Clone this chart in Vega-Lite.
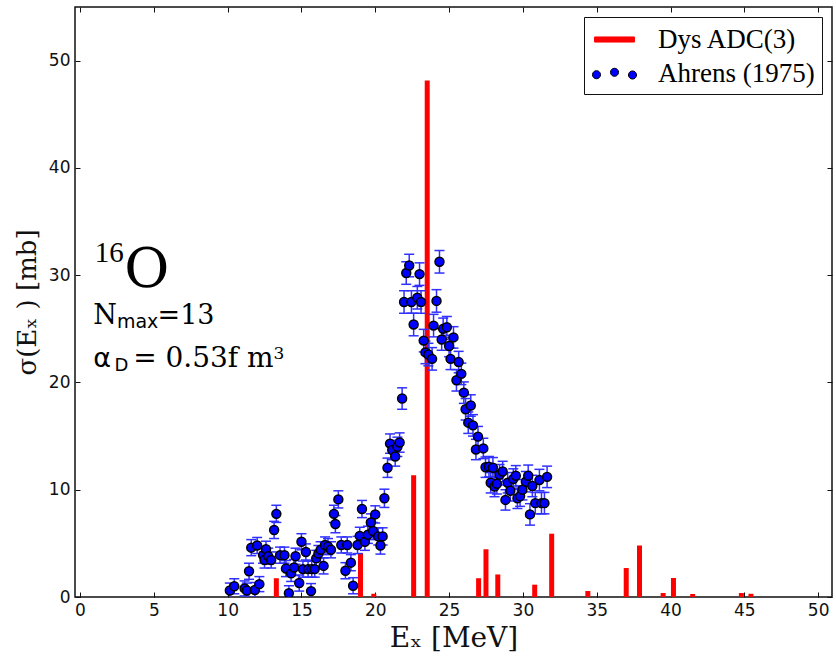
{
  "$schema": "https://vega.github.io/schema/vega-lite/v6.json",
  "width": 757,
  "height": 590,
  "autosize": {"type": "none"},
  "padding": {"left": 75, "top": 7, "right": 4, "bottom": 59},
  "background": "white",
  "data": {"values": [{}]},
  "datasets": {
    "dys": [
      {"e": 13.3, "s": 1.75}, {"e": 19.0, "s": 4.1}, {"e": 19.9, "s": 0.3},
      {"e": 22.6, "s": 11.35}, {"e": 23.52, "s": 48.15}, {"e": 27.0, "s": 1.75},
      {"e": 27.5, "s": 4.45}, {"e": 28.3, "s": 2.1}, {"e": 30.8, "s": 1.15},
      {"e": 31.95, "s": 5.9}, {"e": 34.4, "s": 0.56}, {"e": 37.0, "s": 2.7},
      {"e": 37.9, "s": 4.8}, {"e": 39.5, "s": 0.37}, {"e": 40.2, "s": 1.77},
      {"e": 41.5, "s": 0.28}, {"e": 44.8, "s": 0.37}, {"e": 45.45, "s": 0.3}
    ],
    "ahrens": [
      {"e": 10.15, "s": 0.6, "err": 0.7}, {"e": 10.45, "s": 1.0, "err": 0.7},
      {"e": 11.15, "s": 0.8, "err": 0.7}, {"e": 11.3, "s": 0.6, "err": 0.7},
      {"e": 11.45, "s": 2.4, "err": 0.75}, {"e": 11.6, "s": 4.6, "err": 0.75},
      {"e": 11.85, "s": 0.65, "err": 0.7}, {"e": 12.0, "s": 4.8, "err": 0.75},
      {"e": 12.15, "s": 1.2, "err": 0.7}, {"e": 12.4, "s": 3.9, "err": 0.75},
      {"e": 12.5, "s": 3.45, "err": 0.75}, {"e": 12.6, "s": 4.45, "err": 0.75},
      {"e": 12.75, "s": 3.8, "err": 0.75}, {"e": 12.95, "s": 3.45, "err": 0.75},
      {"e": 13.15, "s": 6.25, "err": 0.8}, {"e": 13.3, "s": 7.75, "err": 0.8},
      {"e": 13.55, "s": 3.9, "err": 0.75}, {"e": 13.85, "s": 3.9, "err": 0.75},
      {"e": 13.95, "s": 2.65, "err": 0.75}, {"e": 14.15, "s": 0.35, "err": 0.7},
      {"e": 14.3, "s": 2.2, "err": 0.75}, {"e": 14.5, "s": 2.75, "err": 0.75},
      {"e": 14.6, "s": 3.8, "err": 0.75}, {"e": 14.85, "s": 1.3, "err": 0.75},
      {"e": 15.0, "s": 5.15, "err": 0.75}, {"e": 15.1, "s": 2.6, "err": 0.75},
      {"e": 15.3, "s": 4.2, "err": 0.75}, {"e": 15.45, "s": 2.6, "err": 0.75},
      {"e": 15.65, "s": 0.55, "err": 0.7}, {"e": 15.7, "s": 2.6, "err": 0.75},
      {"e": 15.9, "s": 2.6, "err": 0.75}, {"e": 16.0, "s": 3.6, "err": 0.75},
      {"e": 16.15, "s": 4.05, "err": 0.75}, {"e": 16.3, "s": 4.4, "err": 0.75},
      {"e": 16.5, "s": 2.9, "err": 0.75}, {"e": 16.6, "s": 4.85, "err": 0.75},
      {"e": 16.8, "s": 4.7, "err": 0.75}, {"e": 17.0, "s": 4.4, "err": 0.75},
      {"e": 17.2, "s": 7.75, "err": 0.8}, {"e": 17.3, "s": 6.8, "err": 0.8},
      {"e": 17.5, "s": 9.1, "err": 0.8}, {"e": 17.7, "s": 4.85, "err": 0.75},
      {"e": 17.98, "s": 2.45, "err": 0.75}, {"e": 18.1, "s": 4.85, "err": 0.75},
      {"e": 18.35, "s": 3.2, "err": 0.75}, {"e": 18.5, "s": 1.05, "err": 0.75},
      {"e": 18.8, "s": 4.85, "err": 0.8}, {"e": 18.95, "s": 5.7, "err": 0.8},
      {"e": 19.1, "s": 8.2, "err": 0.8}, {"e": 19.3, "s": 5.15, "err": 0.8},
      {"e": 19.5, "s": 5.8, "err": 0.8}, {"e": 19.7, "s": 6.95, "err": 0.8},
      {"e": 19.85, "s": 6.15, "err": 0.8}, {"e": 20.0, "s": 7.7, "err": 0.8},
      {"e": 20.2, "s": 5.65, "err": 0.8}, {"e": 20.35, "s": 4.8, "err": 0.8},
      {"e": 20.5, "s": 5.65, "err": 0.8}, {"e": 20.62, "s": 9.2, "err": 0.85},
      {"e": 20.83, "s": 12.05, "err": 0.9}, {"e": 21.0, "s": 14.3, "err": 0.9},
      {"e": 21.15, "s": 13.7, "err": 0.9}, {"e": 21.35, "s": 13.1, "err": 0.9},
      {"e": 21.5, "s": 14.0, "err": 0.9}, {"e": 21.65, "s": 14.4, "err": 0.9},
      {"e": 21.82, "s": 18.5, "err": 1.0}, {"e": 21.95, "s": 27.5, "err": 1.05},
      {"e": 22.1, "s": 30.2, "err": 1.05}, {"e": 22.3, "s": 30.9, "err": 1.05},
      {"e": 22.45, "s": 27.5, "err": 1.05}, {"e": 22.6, "s": 25.4, "err": 1.05},
      {"e": 22.85, "s": 27.9, "err": 1.05}, {"e": 23.0, "s": 30.1, "err": 1.05},
      {"e": 23.1, "s": 27.5, "err": 1.05}, {"e": 23.28, "s": 23.9, "err": 1.05},
      {"e": 23.4, "s": 22.8, "err": 1.05}, {"e": 23.6, "s": 22.6, "err": 1.05},
      {"e": 23.85, "s": 22.2, "err": 1.05}, {"e": 23.95, "s": 25.3, "err": 1.05},
      {"e": 24.15, "s": 27.6, "err": 1.05}, {"e": 24.35, "s": 31.25, "err": 1.05},
      {"e": 24.5, "s": 24.0, "err": 1.0}, {"e": 24.6, "s": 25.0, "err": 1.0},
      {"e": 24.85, "s": 25.15, "err": 1.0}, {"e": 25.0, "s": 23.4, "err": 1.0},
      {"e": 25.1, "s": 22.2, "err": 1.0}, {"e": 25.3, "s": 24.2, "err": 1.0},
      {"e": 25.5, "s": 20.2, "err": 1.0}, {"e": 25.65, "s": 21.9, "err": 1.0},
      {"e": 25.83, "s": 20.8, "err": 1.0}, {"e": 26.0, "s": 19.05, "err": 1.0},
      {"e": 26.12, "s": 17.5, "err": 1.0}, {"e": 26.3, "s": 16.25, "err": 1.0},
      {"e": 26.47, "s": 17.85, "err": 1.0}, {"e": 26.62, "s": 16.0, "err": 1.0},
      {"e": 26.82, "s": 13.75, "err": 0.95}, {"e": 26.96, "s": 14.95, "err": 0.95},
      {"e": 27.32, "s": 13.85, "err": 0.95}, {"e": 27.47, "s": 12.1, "err": 0.95},
      {"e": 27.7, "s": 12.15, "err": 0.95}, {"e": 27.82, "s": 10.65, "err": 0.95},
      {"e": 27.97, "s": 12.05, "err": 0.95}, {"e": 28.08, "s": 10.3, "err": 0.95},
      {"e": 28.24, "s": 10.55, "err": 0.95}, {"e": 28.42, "s": 11.4, "err": 0.95},
      {"e": 28.63, "s": 11.7, "err": 0.95}, {"e": 28.82, "s": 9.05, "err": 0.95},
      {"e": 28.97, "s": 10.65, "err": 0.95}, {"e": 29.15, "s": 9.9, "err": 0.95},
      {"e": 29.35, "s": 11.0, "err": 0.95}, {"e": 29.52, "s": 11.3, "err": 0.95},
      {"e": 29.63, "s": 9.2, "err": 0.95}, {"e": 29.81, "s": 9.4, "err": 0.95},
      {"e": 29.97, "s": 10.0, "err": 0.95}, {"e": 30.2, "s": 10.75, "err": 0.95},
      {"e": 30.36, "s": 11.3, "err": 1.0}, {"e": 30.48, "s": 7.7, "err": 1.0},
      {"e": 30.64, "s": 10.35, "err": 1.0}, {"e": 30.84, "s": 8.75, "err": 1.0},
      {"e": 31.12, "s": 10.9, "err": 1.0}, {"e": 31.26, "s": 8.75, "err": 1.0},
      {"e": 31.46, "s": 8.75, "err": 1.0}, {"e": 31.64, "s": 11.2, "err": 1.0}
    ]
  },
  "config": {
    "view": {"stroke": "#111111", "strokeWidth": 1.5},
    "axis": {
      "grid": false, "domain": false, "tickColor": "#111111", "tickWidth": 1,
      "labelFont": "DejaVu Sans", "labelFontSize": 17, "labelColor": "#111111",
      "titleFont": "DejaVu Serif", "titleFontWeight": "normal", "titleColor": "#111111",
      "labelOverlap": false, "labelFlush": false
    },
    "legend": {
      "orient": "top-right", "offset": 10, "padding": 7, "strokeColor": "#111111", "fillColor": "white",
      "labelFont": "Liberation Serif", "labelFontSize": 27, "labelColor": "black", "labelLimit": 0,
      "symbolSize": 900, "rowPadding": 5, "labelOffset": 28, "symbolOffset": 8, "symbolStrokeWidth": 1
    }
  },
  "resolve": {"axis": {"x": "independent", "y": "independent"}},
  "layer": [
    {
      "data": {"name": "dys"},
      "mark": {"type": "bar", "size": 5, "clip": true},
      "encoding": {
        "x": {"field": "e", "type": "quantitative", "scale": {"domain": [0, 50.6], "nice": false, "zero": false},
              "axis": {"title": "Eₓ [MeV]", "values": [0, 5, 10, 15, 20, 25, 30, 35, 40, 45, 50], "ticks": false, "labelPadding": 5, "titleFontSize": 28, "titlePadding": 6}},
        "y": {"field": "s", "type": "quantitative", "scale": {"domain": [0, 55], "nice": false},
              "axis": {"title": "σ(Eₓ ) [mb]", "values": [0, 10, 20, 30, 40, 50], "ticks": false, "labelPadding": 5, "titleFontSize": 26, "titlePadding": 8}},
        "color": {"datum": "Dys ADC(3)", "type": "nominal",
          "scale": {"domain": ["Dys ADC(3)", "Ahrens (1975)"], "range": ["#ff0000", "#0000ff"]},
          "legend": {"title": null,
            "encode": {"symbols": {"update": {
              "shape": {"signal": "datum.value == 'Dys ADC(3)' ? 'M-1.33,-0.17L1.33,-0.17L1.33,0.17L-1.33,0.17Z' : 'M-1.47,0.08a0.27,0.27 0 1,0 0.54,0a0.27,0.27 0 1,0 -0.54,0Z M-0.27,-0.08a0.27,0.27 0 1,0 0.54,0a0.27,0.27 0 1,0 -0.54,0Z M0.93,0.1a0.27,0.27 0 1,0 0.54,0a0.27,0.27 0 1,0 -0.54,0Z'"},
              "fill": {"signal": "datum.value == 'Dys ADC(3)' ? '#ff0000' : '#0000ff'"},
              "stroke": {"signal": "datum.value == 'Dys ADC(3)' ? '#ff0000' : '#000000'"},
              "strokeWidth": {"value": 1},
              "opacity": {"value": 1},
              "fillOpacity": {"value": 1}
            }}}}
        }
      }
    },
    {
      "data": {"name": "ahrens"},
      "mark": {"type": "errorbar", "color": "#3030ff", "opacity": 1, "clip": true,
               "ticks": {"size": 10, "thickness": 1.5, "color": "#3030ff"},
               "rule": {"strokeWidth": 1.5, "color": "#3030ff"}},
      "encoding": {
        "x": {"field": "e", "type": "quantitative",
              "axis": {"orient": "bottom", "labels": false, "title": null, "tickSize": -5, "values": [0, 5, 10, 15, 20, 25, 30, 35, 40, 45, 50]}},
        "y": {"field": "s", "type": "quantitative",
              "axis": {"orient": "left", "labels": false, "title": null, "tickSize": -5, "values": [0, 10, 20, 30, 40, 50]}},
        "yError": {"field": "err"}
      }
    },
    {
      "data": {"name": "ahrens"},
      "mark": {"type": "point", "filled": true, "shape": "circle", "size": 80, "stroke": "#000000", "strokeWidth": 1.5, "opacity": 1, "clip": true},
      "encoding": {
        "x": {"field": "e", "type": "quantitative",
              "axis": {"orient": "top", "labels": false, "title": null, "tickSize": -5, "values": [0, 5, 10, 15, 20, 25, 30, 35, 40, 45, 50]}},
        "y": {"field": "s", "type": "quantitative",
              "axis": {"orient": "right", "labels": false, "title": null, "tickSize": -5, "values": [0, 10, 20, 30, 40, 50]}},
        "color": {"datum": "Ahrens (1975)", "type": "nominal"}
      }
    },
    {
      "mark": {"type": "text", "text": "16", "font": "Liberation Serif", "fontSize": 29, "align": "left", "baseline": "alphabetic", "color": "black"},
      "encoding": {"x": {"datum": 1.0, "type": "quantitative", "axis": null}, "y": {"datum": 31.25, "type": "quantitative", "axis": null}}
    },
    {
      "mark": {"type": "text", "text": "O", "font": "DejaVu Serif", "fontSize": 55, "align": "left", "baseline": "alphabetic", "color": "black"},
      "encoding": {"x": {"datum": 3.0, "type": "quantitative", "axis": null}, "y": {"datum": 28.9, "type": "quantitative", "axis": null}}
    },
    {
      "mark": {"type": "text", "text": "N", "font": "DejaVu Serif", "fontSize": 27, "align": "left", "baseline": "alphabetic", "color": "black"},
      "encoding": {"x": {"datum": 0.9, "type": "quantitative", "axis": null}, "y": {"datum": 25.47, "type": "quantitative", "axis": null}}
    },
    {
      "mark": {"type": "text", "text": "max", "font": "DejaVu Sans", "fontSize": 19, "align": "left", "baseline": "alphabetic", "color": "black"},
      "encoding": {"x": {"datum": 2.5, "type": "quantitative", "axis": null}, "y": {"datum": 25.06, "type": "quantitative", "axis": null}}
    },
    {
      "mark": {"type": "text", "text": "=13", "font": "DejaVu Serif", "fontSize": 27, "align": "left", "baseline": "alphabetic", "color": "black"},
      "encoding": {"x": {"datum": 5.25, "type": "quantitative", "axis": null}, "y": {"datum": 25.47, "type": "quantitative", "axis": null}}
    },
    {
      "mark": {"type": "text", "text": "α", "font": "DejaVu Sans", "fontSize": 27, "fontWeight": "normal", "align": "left", "baseline": "alphabetic", "color": "black"},
      "encoding": {"x": {"datum": 0.9, "type": "quantitative", "axis": null}, "y": {"datum": 21.48, "type": "quantitative", "axis": null}}
    },
    {
      "mark": {"type": "text", "text": "D", "font": "DejaVu Sans", "fontSize": 18, "align": "left", "baseline": "alphabetic", "color": "black"},
      "encoding": {"x": {"datum": 2.34, "type": "quantitative", "axis": null}, "y": {"datum": 21.1, "type": "quantitative", "axis": null}}
    },
    {
      "mark": {"type": "text", "text": "= 0.53f m", "font": "DejaVu Serif", "fontSize": 28, "align": "left", "baseline": "alphabetic", "color": "black"},
      "encoding": {"x": {"datum": 3.6, "type": "quantitative", "axis": null}, "y": {"datum": 21.48, "type": "quantitative", "axis": null}}
    },
    {
      "mark": {"type": "text", "text": "3", "font": "DejaVu Serif", "fontSize": 17, "align": "left", "baseline": "alphabetic", "color": "black"},
      "encoding": {"x": {"datum": 13.1, "type": "quantitative", "axis": null}, "y": {"datum": 22.2, "type": "quantitative", "axis": null}}
    }
  ]
}
